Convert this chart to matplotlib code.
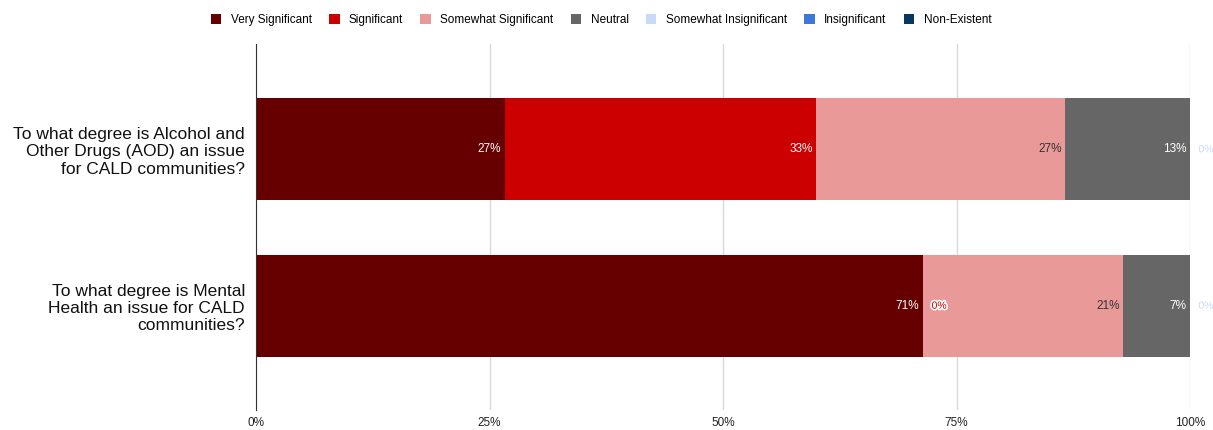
import numpy as np
import matplotlib.pyplot as plt
import matplotlib.patheffects as pe

plt.rcParams['font.family'] = ['Liberation Sans', 'DejaVu Sans']

questions = ["To what degree is Alcohol and\nOther Drugs (AOD) an issue\nfor CALD communities?",
             "To what degree is Mental\nHealth an issue for CALD\ncommunities?"]
categories = ["Very Significant", "Significant", "Somewhat Significant", "Neutral",
              "Somewhat Insignificant", "Insignificant", "Non-Existent"]
colors = ["#660000", "#cc0000", "#ea9999", "#666666", "#c9daf8", "#3c78d8", "#073763"]
label_colors = ["#ffffff", "#ffffff", "#333333", "#ffffff", "#ffffff", "#ffffff", "#ffffff"]
# shares (fraction) per question, order of categories
aod = [0.2667, 0.3333, 0.2667, 0.1333, 0.0, 0.0, 0.0]
mental = [0.7143, 0.0, 0.2143, 0.0714, 0.0, 0.0, 0.0]
values = np.array([aod, mental])

W, H = 1213, 430
fig = plt.figure(figsize=(W / 100, H / 100), dpi=100)
ax = fig.add_axes([256 / W, 1 - 410 / H, (1190 - 256) / W, (410 - 44) / H])

y = np.arange(len(questions))
left = np.zeros(len(questions))
for k, cat in enumerate(categories):
    v = values[:, k]
    ax.barh(y, v, left=left, height=0.654, color=colors[k], label=cat, zorder=2)
    for i in range(len(questions)):
        end = left[i] + v[i]
        txt = f"{v[i] * 100:.0f}%"
        if v[i] > 0:
            ax.text(end - 0.004, y[i], txt, ha='right', va='center', fontsize=8.5,
                    color=label_colors[k], zorder=4)
        elif k == 1 or k == 4:
            # zero-width segment, label placed just to the right
            t = ax.text(end + 0.009, y[i], txt, ha='left', va='center', fontsize=7.5,
                        color=colors[k], zorder=4, clip_on=False)
            t.set_path_effects([pe.withStroke(linewidth=2.5, foreground='white')])
    left += v

ax.set_xlim(0, 1)
ax.set_ylim(1 + 104 / 156, -105 / 156)
ax.set_xticks([0, 0.25, 0.5, 0.75, 1.0])
ax.set_xticklabels(["0%", "25%", "50%", "75%", "100%"], fontsize=8.5, color='#222222')
ax.xaxis.grid(True, color='#d9d9d9', linewidth=1, zorder=0)
ax.tick_params(axis='x', length=0, pad=5)
ax.tick_params(axis='y', length=0, pad=8)
ax.set_yticks(y)
ax.set_yticklabels(questions, fontsize=12.5, color='#111111', ha='right', multialignment='right',
                   linespacing=1.2)
for s in ['top', 'right', 'bottom']:
    ax.spines[s].set_visible(False)
ax.spines['left'].set_color('#333333')
ax.spines['left'].set_zorder(3)

fig.legend(loc='center', bbox_to_anchor=(601 / W, 1 - 20 / H), ncol=7, frameon=False,
           fontsize=8.5, handlelength=0.9, handleheight=0.9, handletextpad=0.8, columnspacing=1.45)

fig.savefig("out.png", dpi=100)
